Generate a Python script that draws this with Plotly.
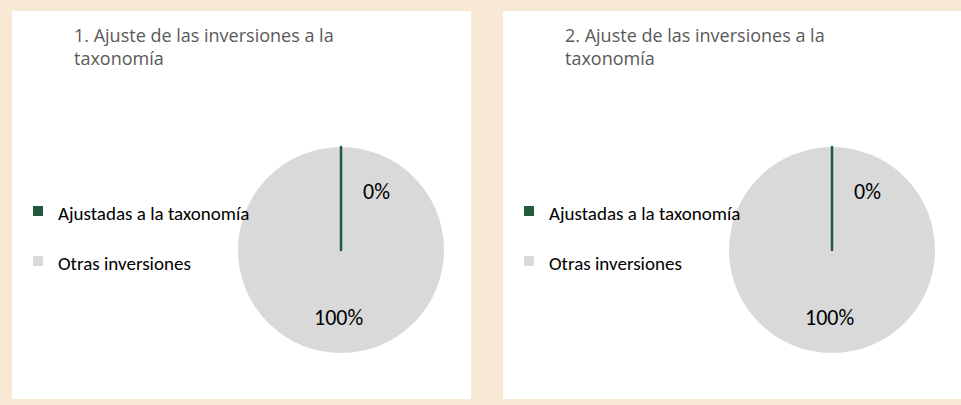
import plotly.graph_objects as go

# ---- data ----
titles = ["1. Ajuste de las inversiones a la<br>taxonomía",
          "2. Ajuste de las inversiones a la<br>taxonomía"]
categories = ["Ajustadas a la taxonomía", "Otras inversiones"]
values_1 = [0, 100]
values_2 = [0, 100]
colors = ["#235A3D", "#D9D9D9"]

W, H = 961, 405
def px(x):
    return x / W
def py(y):
    return 1 - y / H

BG = "#F8E9D5"
panels = [(12, 471), (503, 961)]
panel_top, panel_bot = 11, 399
pie_cx_off = 329   # pie centre relative to panel left
pie_cy = 250
pie_r = 103

fig = go.Figure()
shapes = []
annotations = []
label_font = "Calibri, Carlito, 'Liberation Sans', Arial, sans-serif"

for k, (vals, title) in enumerate(zip([values_1, values_2], titles)):
    x0, x1 = panels[k]
    shapes.append(dict(type="rect", xref="paper", yref="paper",
                       x0=px(x0), x1=px(x1), y0=py(panel_bot), y1=py(panel_top),
                       fillcolor="white", line=dict(width=0), layer="below"))
    cx = x0 + pie_cx_off
    # draw full slice first so the zero slice (edge line) stays visible on top
    order = [1, 0]
    fig.add_trace(go.Pie(
        labels=[categories[i] for i in order],
        values=[vals[i] for i in order],
        sort=False, direction="clockwise", rotation=0,
        marker=dict(colors=[colors[i] for i in order],
                    line=dict(color=[colors[i] for i in order], width=[0, 2.5])),
        textinfo="none", hoverinfo="label+percent",
        showlegend=False,
        domain=dict(x=[px(cx - pie_r), px(cx + pie_r)],
                    y=[py(pie_cy + pie_r), py(pie_cy - pie_r)]),
    ))
    total = sum(vals)
    # percentage labels
    lab_off = [(35, -59), (-3, 67)]
    for i, v in enumerate(vals):
        annotations.append(dict(
            xref="paper", yref="paper", x=px(cx + lab_off[i][0]), y=py(pie_cy + lab_off[i][1]),
            text=f"{round(100 * v / total)}%", showarrow=False,
            xanchor="center", yanchor="middle",
            font=dict(family=label_font, size=22, color="#000000")))
    # title
    annotations.append(dict(
        xref="paper", yref="paper", x=px(x0 + 60), y=py(21),
        text=title, showarrow=False, xanchor="left", yanchor="top", align="left",
        font=dict(family="'Open Sans', sans-serif", size=18, color="#595959")))
    # legend
    for i, cat in enumerate(categories):
        ly = 211 + 50 * i
        shapes.append(dict(type="rect", xref="paper", yref="paper",
                           x0=px(x0 + 21), x1=px(x0 + 31), y0=py(ly + 5), y1=py(ly - 5),
                           fillcolor=colors[i], line=dict(width=0)))
        annotations.append(dict(
            xref="paper", yref="paper", x=px(x0 + 44), y=py(ly + 2),
            text=cat, showarrow=False, xanchor="left", yanchor="middle",
            font=dict(family=label_font, size=19, color="#000000")))

fig.update_layout(
    width=W, height=H,
    margin=dict(l=0, r=0, t=0, b=0),
    paper_bgcolor=BG, plot_bgcolor=BG,
    shapes=shapes, annotations=annotations,
    showlegend=False,
)

fig.write_html("out.html", config={"displayModeBar": False},
               post_script="document.body.style.margin='0';document.body.style.background='%s';" % BG)
